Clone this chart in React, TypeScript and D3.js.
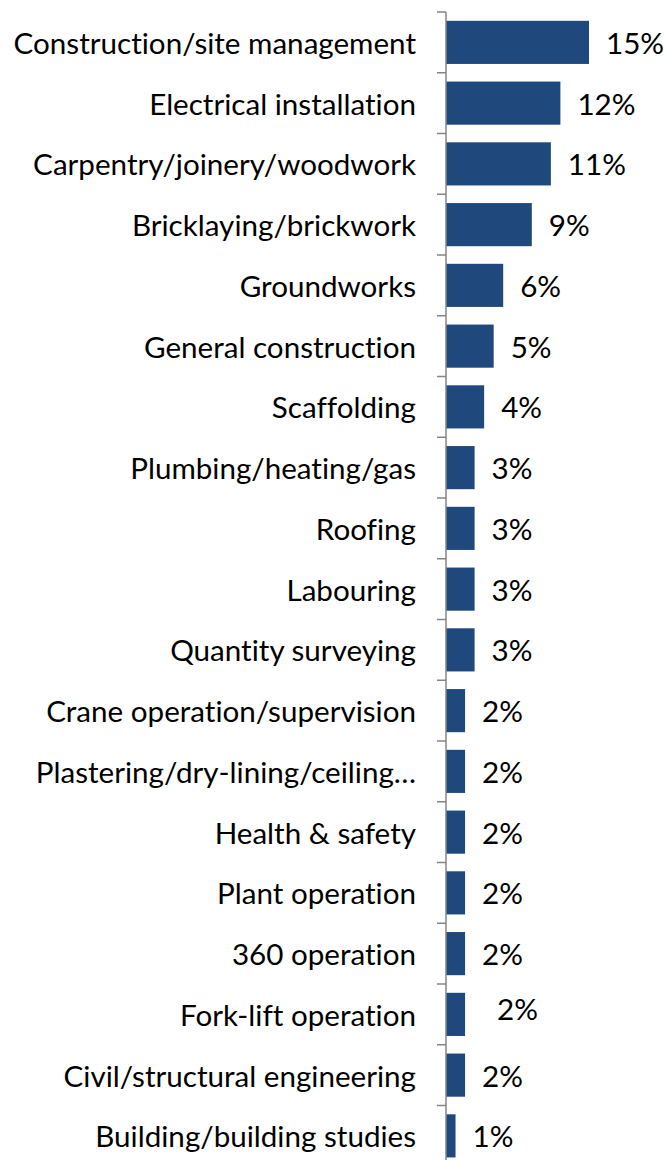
import * as d3 from "d3";
import { useEffect, useRef } from "react";

const categories = [
    "Construction/site management",
    "Electrical installation",
    "Carpentry/joinery/woodwork",
    "Bricklaying/brickwork",
    "Groundworks",
    "General construction",
    "Scaffolding",
    "Plumbing/heating/gas",
    "Roofing",
    "Labouring",
    "Quantity surveying",
    "Crane operation/supervision",
    "Plastering/dry-lining/ceiling…",
    "Health & safety",
    "Plant operation",
    "360 operation",
    "Fork-lift operation",
    "Civil/structural engineering",
    "Building/building studies",
];

const values = [15, 12, 11, 9, 6, 5, 4, 3, 3, 3, 3, 2, 2, 2, 2, 2, 2, 2, 1];

const valueLabels = values.map(v => v + "%");

const width = 665;
const height = 1160;
const axisX = 446;
const top = 12;
const step = 60.75;
const barColor = "#1F487C";
const axisColor = "#868686";
const font = "Lato, 'Open Sans', sans-serif";
const fontSize = 29.6;

const App = () => {
    const ref = useRef<SVGSVGElement>(null);

    useEffect(() => {
        const svg = d3.select(ref.current);
        svg.selectAll("*").remove();

        const x = d3.scaleLinear().domain([0, 15]).range([axisX, axisX + 143]);
        const y = d3.scaleBand<string>()
            .domain(categories)
            .range([top, top + step * categories.length])
            .paddingInner(0.29)
            .paddingOuter(0.145);

        // bars
        svg.append("g")
            .attr("fill", barColor)
            .selectAll("rect")
            .data(values)
            .join("rect")
            .attr("x", x(0))
            .attr("y", (_, i) => y(categories[i]) ?? 0)
            .attr("width", d => x(d) - x(0))
            .attr("height", y.bandwidth());

        // axis line + ticks at band edges
        const axis = svg.append("g").attr("stroke", axisColor).attr("stroke-width", 1.5);
        axis.append("line")
            .attr("x1", axisX).attr("x2", axisX)
            .attr("y1", top).attr("y2", top + step * categories.length);
        axis.selectAll("line.tick")
            .data(d3.range(categories.length + 1))
            .join("line")
            .attr("class", "tick")
            .attr("x1", axisX - 9).attr("x2", axisX)
            .attr("y1", i => top + i * step)
            .attr("y2", i => top + i * step);

        const textStyle = "font-variant-ligatures: none; font-kerning: normal;";

        // category labels
        svg.append("g")
            .selectAll("text")
            .data(categories)
            .join("text")
            .attr("x", 416)
            .attr("y", d => (y(d) ?? 0) + y.bandwidth() / 2)
            .attr("text-anchor", "end")
            .attr("dominant-baseline", "central")
            .attr("font-family", font)
            .attr("font-size", fontSize)
            .attr("style", textStyle)
            .attr("fill", "#000")
            .text(d => d);

        // value labels (fork-lift one was nudged in the original)
        svg.append("g")
            .selectAll("text")
            .data(values)
            .join("text")
            .attr("x", (d, i) => x(d) + 17 + (categories[i] === "Fork-lift operation" ? 15 : 0))
            .attr("y", (_, i) => (y(categories[i]) ?? 0) + y.bandwidth() / 2 - (categories[i] === "Fork-lift operation" ? 6 : 0))
            .attr("dominant-baseline", "central")
            .attr("font-family", font)
            .attr("font-size", fontSize)
            .attr("style", textStyle)
            .attr("fill", "#000")
            .text((_, i) => valueLabels[i]);
    }, []);

    return <svg ref={ref} width={width} height={height}
        style={{ position: "absolute", left: 0, top: 0, background: "#fff" }} />;
};

export default App;
